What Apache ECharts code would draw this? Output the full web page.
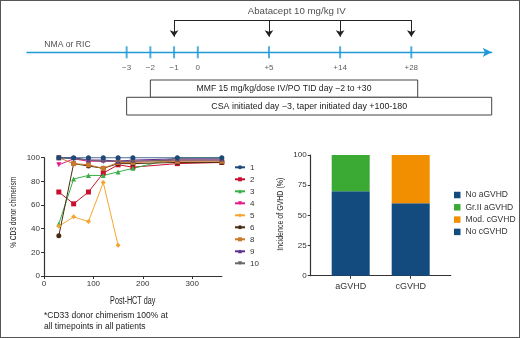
<!DOCTYPE html>
<html><head><meta charset="utf-8">
<script src="https://cdn.jsdelivr.net/npm/echarts@6/dist/echarts.min.js"></script>
<style>
html,body{margin:0;padding:0;background:#fff}
#c{position:absolute;left:0;top:0;width:520px;height:338px}
#f{position:absolute;left:0;top:0;width:520px;height:338px;box-sizing:border-box;border:1px solid #555;pointer-events:none}
</style></head><body><div id="c"></div><div id="f"></div>
<script>
// ---- timeline schematic ----
const timelineLabels = ['\u22123','\u22122','\u22121','0','+5','+14','+28'];
const timelineSlots = [0,1,2,3,6,9,12];          // schematic slot of each tick
const abataceptSlots = [2,6,9,12];                 // -1, +5, +14, +28
const mmfText = 'MMF 15 mg/kg/dose IV/PO TID day \u22122 to +30';
const csaText = 'CSA initiated day \u22123, taper initiated day +100-180';
const abataceptText = 'Abatacept 10 mg/kg IV';
const conditioningText = 'NMA or RIC';

// ---- chimerism (% CD3 donor) ----
const daysPostHCT = [30,60,90,120,150,180,270,360];
const patientNames = ['1','2','3','4','5','6','8','9','10'];
const chim1  = [100,100,100,100,100,100,100,100];
const chim2  = [71,61,71,87,94,92,95,96];
const chim3  = [44,82,85,85,88,91,100,100];
const chim4  = [94,99,97,97,97,97,98,98];
const chim5  = [42,50,46,79,26];
const chim6  = [34,95,93,91,95,95,96,96];
const chim8  = [100,95,94,91,96,96,97,97];
const chim9  = [100,100,98,98,97,98,99,99];
const chim10 = [100,99,98,97,97,97,98,98];
const xTicks = [0,100,200,300];
const chimXTitle = 'Post-HCT day';
const chimYTitle = '% CD3 donor chimerism';

// ---- GVHD incidence ----
const gvhdCategories = ['aGVHD','cGVHD'];
const noAGVHD   = [70, null];
const grIIAGVHD = [30, null];
const noCGVHD   = [null, 60];
const modCGVHD  = [null, 40];
const gvhdYTitle = 'Incidence of GVHD (%)';

const chimSeries = [chim1,chim2,chim3,chim4,chim5,chim6,chim8,chim9,chim10];
const colors  = ['#1d4877','#c8102e','#3aaf49','#e5198a','#f5a52e','#4a2b0d','#c9782d','#5e2b8f','#666666'];
const symbols = ['circle','rect','triangle','triangle','diamond','circle','rect','triangle','triangle'];
const rotates = [0,0,0,180,0,0,0,0,180];
const BLUE = '#1f9ad6';
const FONT = "'Liberation Sans', Arial, sans-serif";

const lineSeries = chimSeries.map((vals, i) => ({
  type: 'line', name: patientNames[i], xAxisIndex: 1, yAxisIndex: 1,
  data: vals.map((v, k) => [daysPostHCT[k], v]),
  symbol: symbols[i], symbolRotate: rotates[i], symbolSize: 5,
  z: i === 0 ? 10 : 2,
  itemStyle: { color: colors[i] }, lineStyle: { color: colors[i], width: 1 }
}));

// condensed-looking axis titles (horizontally compressed text)
function condensedTitle(text, x, y, size, squeeze, vertical) {
  return { type: 'text', x: x, y: y, rotation: vertical ? Math.PI / 2 : 0,
    scaleX: squeeze, silent: true,
    style: { text: text, fontSize: size, fontFamily: FONT, fill: '#222',
      align: 'center', verticalAlign: 'middle' } };
}

const chart = echarts.init(document.getElementById('c'), null, { renderer: 'canvas' });
chart.setOption({
  animation: false,
  textStyle: { fontFamily: FONT },
  title: {
    text: '*CD33 donor chimerism 100% at\nall timepoints in all patients',
    left: 44, top: 310.5, padding: 0,
    textStyle: { fontSize: 8.5, fontWeight: 'normal', color: '#222', lineHeight: 10.5, fontFamily: FONT }
  },
  graphic: [
    condensedTitle(chimXTitle, 132.7, 301, 10, 0.72, false),
    condensedTitle(chimYTitle, 13, 212.3, 9.5, 0.69, true),
    condensedTitle(gvhdYTitle, 280, 214.2, 9.5, 0.74, true)
  ],
  grid: [
    { left: 27, top: 0, width: 464.7, height: 116, outerBoundsMode: 'none' },
    { left: 44, top: 157.7, width: 177.8, height: 118.3, outerBoundsMode: 'none' },
    { left: 310.7, top: 155, width: 140, height: 120.7, outerBoundsMode: 'none' },
    { left: 320.7, top: 155, width: 120, height: 120.7, outerBoundsMode: 'none' }
  ],
  xAxis: [
    { gridIndex: 0, type: 'value', min: -4.2, max: 15.39,
      axisLine: { show: true, onZero: true, symbol: ['none','arrow'], symbolSize: [7,9], lineStyle: { color: BLUE, width: 1.3 } },
      axisTick: { show: false }, axisLabel: { show: false }, splitLine: { show: false } },
    { gridIndex: 1, type: 'value', min: 0, max: 360, interval: 100,
      axisLine: { show: true, onZero: false, lineStyle: { color: '#333', width: 1.2 } },
      axisTick: { show: true, length: 3, customValues: xTicks, lineStyle: { color: '#333' } },
      axisLabel: { fontSize: 8, color: '#333', margin: 4, customValues: xTicks },
      splitLine: { show: false } },
    { gridIndex: 2, type: 'value', min: 0, max: 1,
      axisLine: { show: true, onZero: false, lineStyle: { color: '#333', width: 1.2 } },
      axisTick: { show: false }, axisLabel: { show: false }, splitLine: { show: false } },
    { gridIndex: 3, type: 'category', data: gvhdCategories,
      axisLine: { show: false },
      axisTick: { show: true, alignWithLabel: true, length: 3, lineStyle: { color: '#333' } },
      axisLabel: { fontSize: 9, color: '#333', margin: 6 } }
  ],
  yAxis: [
    { gridIndex: 0, type: 'value', min: -63.7, max: 52.3, show: false },
    { gridIndex: 1, type: 'value', min: 0, max: 100, interval: 20,
      axisLine: { show: true, lineStyle: { color: '#333', width: 1.2 } },
      axisTick: { show: true, length: 3, lineStyle: { color: '#333' } },
      axisLabel: { fontSize: 8, color: '#333', margin: 4 },
      splitLine: { show: false } },
    { gridIndex: 2, type: 'value', min: 0, max: 100, interval: 25,
      axisLine: { show: true, lineStyle: { color: '#333', width: 1.2 } },
      axisTick: { show: true, length: 3, lineStyle: { color: '#333' } },
      axisLabel: { fontSize: 8, color: '#333', margin: 4 },
      splitLine: { show: false } },
    { gridIndex: 3, type: 'value', min: 0, max: 100, show: false }
  ],
  legend: [
    { data: patientNames, orient: 'vertical', left: 234, top: 162.3, padding: 0,
      itemWidth: 10, itemHeight: 5, itemGap: 2, selectedMode: false,
      textStyle: { fontSize: 8, color: '#333', lineHeight: 10 } },
    { data: ['No aGVHD','Gr.II aGVHD','Mod. cGVHD','No cGVHD'], orient: 'vertical', left: 454, top: 190, padding: 0,
      icon: 'rect', itemWidth: 6.5, itemHeight: 6.5, itemGap: 2.3, selectedMode: false,
      textStyle: { fontSize: 8.5, color: '#333', lineHeight: 10 } }
  ],
  series: [
    { type: 'scatter', name: 'timeline', xAxisIndex: 0, yAxisIndex: 0, silent: true,
      data: timelineSlots.map(s => [s, 0]),
      symbol: 'rect', symbolSize: [2, 12], itemStyle: { color: BLUE },
      label: { show: true, position: 'bottom', distance: 5, fontSize: 8, color: '#333',
        formatter: p => timelineLabels[p.dataIndex] },
      markArea: { silent: true,
        itemStyle: { color: '#fff', borderColor: '#444', borderWidth: 1, opacity: 1 },
        label: { show: true, position: 'inside', color: '#222' },
        data: [
          [{ name: mmfText, coord: [1, -27.7], label: { fontSize: 8.6 } }, { coord: [12.27, -45] }],
          [{ name: csaText, coord: [0, -45], label: { fontSize: 8.9 } }, { coord: [15.39, -62.7] }]
        ] } },
    { type: 'scatter', name: 'notes', xAxisIndex: 0, yAxisIndex: 0, silent: true,
      symbolSize: 1, itemStyle: { color: 'transparent' },
      data: [
        { value: [7.17, 40.6], label: { formatter: abataceptText, position: 'inside', fontSize: 9.7 } },
        { value: [-3.49, 7.3], label: { formatter: conditioningText, position: 'right', distance: 0, fontSize: 8.6 } }
      ],
      label: { show: true, color: '#222' } },
    { type: 'lines', coordinateSystem: 'cartesian2d', xAxisIndex: 0, yAxisIndex: 0, silent: true,
      symbol: 'none', lineStyle: { color: '#222', width: 1, opacity: 1 },
      data: [{ coords: [[abataceptSlots[0], 32.3], [abataceptSlots[abataceptSlots.length-1], 32.3]] }] },
    { type: 'lines', coordinateSystem: 'cartesian2d', xAxisIndex: 0, yAxisIndex: 0, silent: true,
      symbol: ['none','arrow'], symbolSize: 6.5,
      itemStyle: { color: '#222' }, lineStyle: { color: '#222', width: 1, opacity: 1 },
      data: abataceptSlots.map(s => ({ coords: [[s, 32.3], [s, 15.6]] })) },
    ...lineSeries,
    { type: 'bar', name: 'No aGVHD', xAxisIndex: 3, yAxisIndex: 3, stack: 'g', barWidth: 38,
      data: noAGVHD, itemStyle: { color: '#134b7f' } },
    { type: 'bar', name: 'Gr.II aGVHD', xAxisIndex: 3, yAxisIndex: 3, stack: 'g', barWidth: 38,
      data: grIIAGVHD, itemStyle: { color: '#3aaa35' } },
    { type: 'bar', name: 'No cGVHD', xAxisIndex: 3, yAxisIndex: 3, stack: 'g', barWidth: 38,
      data: noCGVHD, itemStyle: { color: '#134b7f' } },
    { type: 'bar', name: 'Mod. cGVHD', xAxisIndex: 3, yAxisIndex: 3, stack: 'g', barWidth: 38,
      data: modCGVHD, itemStyle: { color: '#f28f00' } }
  ]
});
</script></body></html>
